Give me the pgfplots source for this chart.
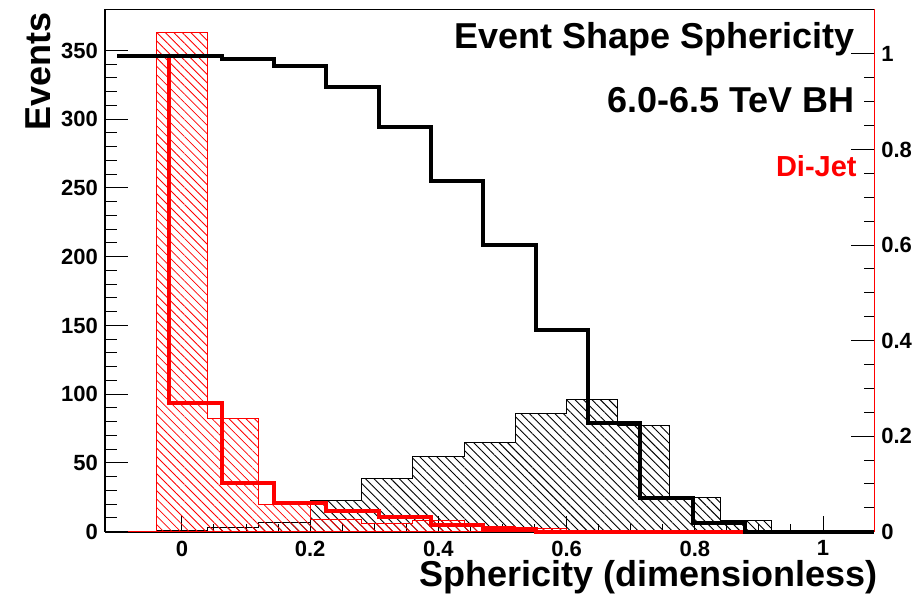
\documentclass[border=0pt]{standalone}
\usepackage{fontspec}
\setmainfont{Liberation Sans}
\usepackage{pgfplots}
\pgfplotsset{compat=1.18}
\usetikzlibrary{patterns.meta}

\begin{document}
\begin{tikzpicture}
\pgfplotsset{
  base/.style={scale only axis, width=384.65pt, height=261.35pt,
    at={(0,0)}, anchor=south west,
    xmin=-0.12, xmax=1.08,
    axis line style={draw=none},
    tick align=inside,
    tick style={black, line width=0.5pt},
    ticklabel style={font=\bfseries\fontsize{11}{13}\selectfont},
    /pgf/number format/assume math mode=true,
    clip=false},
}
% ---- axis A: x ticks + hatched histograms (left units)
\begin{axis}[base, ymin=0, ymax=380.2, hide y axis,
  xtick={0,0.2,0.4,0.6,0.8,1}, minor x tick num=3, xtick pos=bottom,
  major tick length=8pt, minor tick length=4pt,
  xticklabel style={yshift=-1pt}]
\draw[line width=1pt] (rel axis cs:0,0) -- (rel axis cs:1,0);
\draw[line width=1pt] (rel axis cs:0,0) -- (rel axis cs:0,1);
\draw[line width=0.4pt] (rel axis cs:0,1) -- (rel axis cs:1,1);
% black hatched (BH)
\addplot[const plot, draw=black, line width=0.5pt,
  pattern={Lines[angle=-45,distance=3pt,line width=0.45pt]}, pattern color=black]
  coordinates {(-0.12,0) (-0.04,1) (0.04,3) (0.12,6.5) (0.20,22.5) (0.28,38.5)
   (0.36,55) (0.44,65) (0.52,86) (0.60,96) (0.68,77) (0.76,25) (0.84,8)
   (0.92,0) (1.08,0)} \closedcycle;
% red hatched (Di-Jet)
\addplot[const plot, draw=red, line width=0.5pt,
  pattern={Lines[angle=-45,distance=3pt,line width=0.4pt]}, pattern color=red]
  coordinates {(-0.12,0) (-0.04,363) (0.04,82.5) (0.12,20) (0.20,9) (0.28,6)
   (0.36,8.5) (0.44,4) (0.52,2) (0.60,0) (1.08,0)} \closedcycle;
\end{axis}
% ---- axis B: left y ticks
\begin{axis}[base, ymin=0, ymax=380.2, hide x axis,
  ytick={0,50,100,150,200,250,300,350}, minor y tick num=4, ytick pos=left,
  major tick length=11.5pt, minor tick length=6pt]
\end{axis}
% ---- axis C: right axis + cumulative lines
\begin{axis}[base, ymin=0, ymax=1.094, hide x axis,
  ytick={0,0.2,0.4,0.6,0.8,1}, minor y tick num=3,
  ytick pos=right, yticklabel pos=right,
  major tick length=11.5pt, minor tick length=5pt]
\addplot[const plot, draw=red, line width=2pt]
  coordinates {(-0.101,0.9965) (-0.0194,0.269) (0.0622,0.101) (0.1438,0.061)
   (0.2254,0.044) (0.307,0.031) (0.3886,0.014) (0.4702,0.006) (0.5518,0)
   (0.8782,0)};
\addplot[const plot, draw=black, line width=2pt]
  coordinates {(-0.101,0.9965) (0.0622,0.9895) (0.1438,0.9755) (0.2254,0.930)
   (0.307,0.848) (0.3886,0.7346) (0.4702,0.600) (0.5518,0.4227) (0.6334,0.228)
   (0.715,0.070) (0.7966,0.0176) (0.8782,0) (1.08,0)};
\draw[red, line width=0.6pt] (rel axis cs:1,0) -- (rel axis cs:1,1);
\end{axis}
% ---- texts
\node[anchor=base east, inner sep=0pt, font=\bfseries\fontsize{18}{20}\selectfont]
  at (375pt,241.35pt) {Event Shape Sphericity};
\node[anchor=base east, inner sep=0pt, font=\bfseries\fontsize{18}{20}\selectfont]
  at (375pt,209.35pt) {6.0-6.5 TeV BH};
\node[anchor=base east, inner sep=0pt, text=red, font=\bfseries\fontsize{14.5}{16}\selectfont]
  at (376pt,177.35pt) {Di-Jet};
\node[anchor=base east, inner sep=0pt, font=\bfseries\fontsize{18}{20}\selectfont]
  at (386.5pt,-27.65pt) {Sphericity (dimensionless)};
\node[anchor=east, rotate=90, inner sep=0pt, font=\bfseries\fontsize{18}{20}\selectfont]
  at (-33.5pt,259.85pt) {Events};
\pgfresetboundingbox
\path[use as bounding box] (-52.5pt,-32.65pt) rectangle (409.5pt,265.85pt);
\end{tikzpicture}
\end{document}
